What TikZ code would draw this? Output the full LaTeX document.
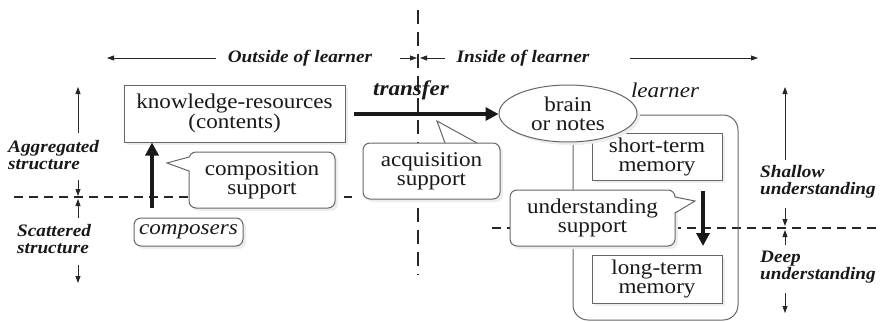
\documentclass[tikz,border=0pt]{standalone}
\usepackage{fontspec}
\setmainfont{Liberation Serif}[FakeStretch=1.1]
\usetikzlibrary{arrows.meta,shapes.geometric}
\begin{document}
\begin{tikzpicture}[x=1pt,y=-1pt,
  txt/.style={font=\fontsize{21}{19}\selectfont, text=black!90, inner sep=0pt, align=center},
  lab/.style={font=\fontsize{17.5}{17}\selectfont\bfseries\itshape, text=black!90, inner sep=0pt, align=left},
  shadowed/.style={preaction={fill=black!7, transform canvas={shift={(3pt,-3pt)}}}},
  box/.style={txt, draw=black!60, line width=1pt, fill=white, shadowed},
  callout/.style={box, rounded corners=7pt},
  thin/.style={line width=0.8pt, draw=black!85, -{Triangle[length=7pt,width=5pt]}},
  thick/.style={line width=4pt, draw=black!90, -{Triangle[length=13pt,width=13pt]}},
  vdash/.style={line width=2.5pt, draw=black!85, dash pattern=on 14pt off 8pt},
  hdash/.style={line width=2pt, draw=black!85, dash pattern=on 9pt off 6pt},
  ptr/.style={draw=black!60, line width=1pt, line join=miter}
]
\useasboundingbox (0,0) rectangle (880,321);

% dashed separators
\coordinate (vt) at (418,10); \coordinate (vb) at (418,275);
\draw[vdash] (vt) -- (vb);
\coordinate (hl1) at (14,197); \coordinate (hl2) at (352,197);
\draw[hdash] (hl1) -- (hl2);
\coordinate (hr1) at (492,228); \coordinate (hr2) at (880,228);
\draw[hdash] (hr1) -- (hr2);

% top labels and arrows
\node[lab] (out) at (300,58) {Outside of learner};
\node[lab] (ins) at (523,58) {Inside of learner};
\coordinate (o1) at (216,58); \coordinate (o2) at (107,58);
\coordinate (o3) at (400,58); \coordinate (o4) at (417,58);
\coordinate (i1) at (445,58); \coordinate (i2) at (420,58);
\coordinate (i3) at (630,58); \coordinate (i4) at (758,58);
\draw[thin] (o1) -- (o2);
\draw[thin] (o3) -- (o4);
\draw[thin] (i1) -- (i2);
\draw[thin] (i3) -- (i4);

% left side labels
\node[lab, anchor=west] (agg) at (8,155) {Aggregated\\structure};
\node[lab, anchor=west] (sca) at (17,239) {Scattered\\structure};
\coordinate (a1) at (78,133); \coordinate (a2) at (78,87);
\coordinate (a3) at (78,180); \coordinate (a4) at (78,196);
\coordinate (s1) at (78,218); \coordinate (s2) at (78,199);
\coordinate (s3) at (78,265); \coordinate (s4) at (78,283);
\draw[thin] (a1) -- (a2);
\draw[thin] (a3) -- (a4);
\draw[thin] (s1) -- (s2);
\draw[thin] (s3) -- (s4);

% right side labels
\node[lab, anchor=west] (sha) at (760,182) {Shallow\\understanding};
\node[lab, anchor=west] (dee) at (760,267) {Deep\\understanding};
\coordinate (r1) at (785,160); \coordinate (r2) at (785,87);
\coordinate (r3) at (785,208); \coordinate (r4) at (785,226);
\coordinate (r5) at (785,245); \coordinate (r6) at (785,230);
\coordinate (r7) at (785,293); \coordinate (r8) at (785,313);
\draw[thin] (r1) -- (r2);
\draw[thin] (r3) -- (r4);
\draw[thin] (r5) -- (r6);
\draw[thin] (r7) -- (r8);

% learner container
\node[draw=black!60, line width=1pt, rounded corners=15pt, minimum width=165pt, minimum height=205pt, inner sep=0pt] (lrn) at (655.5,217.5) {};
\node[txt, font=\fontsize{21}{19}\selectfont\itshape] (lrnlab) at (665,90) {learner};

% boxes
\node[box, minimum width=221pt, minimum height=57pt] (kr) at (234.5,113.5) {knowledge-resources\\(contents)};
\node[box, minimum width=130pt, minimum height=47pt] (stm) at (657,156.5) {short-term\\memory};
\node[box, minimum width=130pt, minimum height=48pt] (ltm) at (657,279) {long-term\\memory};
\node[box, ellipse, minimum width=138pt, minimum height=57pt] (brain) at (568,113.5) {brain\\or notes};
\node[callout, minimum width=109pt, minimum height=28pt, font=\fontsize{21}{19}\selectfont\itshape] (cmp) at (188.5,232) {composers};

% callouts
\node[callout, minimum width=146pt, minimum height=56pt] (cs) at (262,180) {composition\\support};
\coordinate (cst) at (167,163); \coordinate (csa) at (189,157); \coordinate (csb) at (189,171);
\fill[white] (cst) -- ([xshift=2pt]csa) -- ([xshift=2pt]csb) -- cycle;
\draw[ptr] (csa) -- (cst) -- (csb);

\node[callout, minimum width=137pt, minimum height=56pt] (as) at (431.5,171) {acquisition\\support};
\coordinate (ast) at (437,121); \coordinate (asa) at (445,143); \coordinate (asb) at (477,143);
\fill[white] (ast) -- ([yshift=2pt]asa) -- ([yshift=2pt]asb) -- cycle;
\draw[ptr] (asa) -- (ast) -- (asb);

\node[callout, minimum width=165pt, minimum height=56pt] (us) at (592.5,218) {understanding\\support};
\coordinate (ust) at (695,201); \coordinate (usa) at (675,197); \coordinate (usb) at (675,213);
\fill[white] (ust) -- ([xshift=-2pt]usa) -- ([xshift=-2pt]usb) -- cycle;
\draw[ptr] (usa) -- (ust) -- (usb);

% thick arrows
\node[txt, font=\fontsize{21}{19}\selectfont\bfseries\itshape] (trl) at (411,90) {transfer};
\draw[thick] (kr.east |- 0,114) ++(8,0) coordinate (tr1) -- (brain.west |- tr1);
\coordinate (up1) at (152,208);
\draw[thick] (up1) -- (kr.south -| up1);
\coordinate (dn1) at (703,191); \coordinate (dn2) at (703,246);
\draw[thick] (dn1) -- (dn2);
\end{tikzpicture}
\end{document}
